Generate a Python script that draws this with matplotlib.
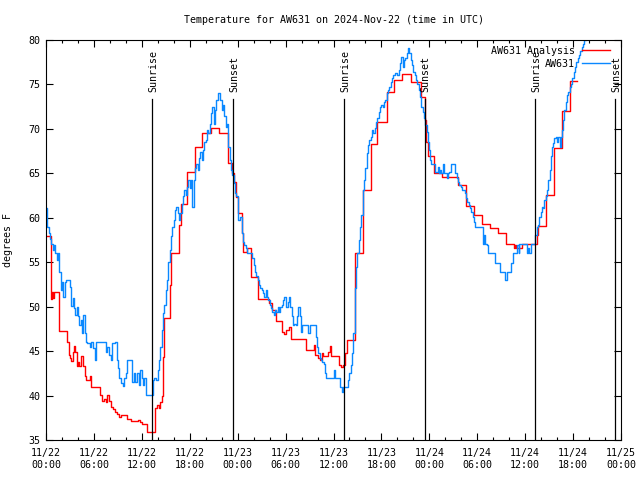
import matplotlib
matplotlib.use('Agg')
import matplotlib.pyplot as plt

# hours since 2024-11-22 00:00 UTC
analysis_hours = [0.0, 0.62, 0.75, 0.92, 1.0, 1.17, 1.66, 2.66, 2.83, 3.0, 3.17, 3.33, 3.5, 3.67,
                  3.83, 4.0, 4.17, 4.33, 4.67, 4.83, 5.0, 5.5, 5.67, 6.75, 7.0, 7.25, 7.5, 7.67,
                  7.92, 8.08, 8.33, 8.58, 8.83, 9.08, 9.33, 10.08, 10.67, 11.58, 11.83, 12.08,
                  12.67, 13.67, 13.92, 14.17, 14.33, 14.58, 14.7, 14.75, 15.5, 15.67, 16.7, 16.92,
                  17.67, 18.63, 19.58, 20.67, 21.67, 22.75, 23.25, 23.58, 23.83, 24.0, 24.5, 24.67,
                  25.17, 25.67, 26.58, 27.92, 28.25, 28.83, 29.58, 29.83, 30.0, 30.4, 30.67, 32.5,
                  32.58, 33.5, 33.67, 34.0, 34.25, 34.5, 34.67, 35.25, 35.5, 35.67, 36.67, 36.92,
                  37.17, 37.5, 37.67, 38.67, 39.67, 40.67, 41.5, 42.67, 43.58, 44.58, 45.67, 46.92,
                  47.42, 47.6, 47.8, 48.58, 49.58, 51.58, 52.58, 53.58, 54.58, 55.58, 56.58, 57.58,
                  58.58, 58.75, 58.9, 59.58, 61.42, 61.58, 62.58, 63.58, 64.67, 65.58, 66.5]
analysis_temps = [58.0, 50.9, 51.7, 51.0, 51.7, 51.7, 47.26, 46.06, 44.56, 44.2, 43.9, 44.94, 45.6, 44.94,
                  43.36, 43.8, 43.36, 44.5, 43.36, 42.2, 41.8, 42.2, 40.96, 40.1, 39.4, 39.6, 39.3, 40.1,
                  39.4, 38.68, 38.5, 38.2, 37.9, 37.55, 37.8, 37.4, 37.1, 37.2, 37.0, 36.8,
                  35.9, 38.56, 38.9, 38.6, 39.3, 39.95, 44.3, 48.7, 52.4, 56.0, 59.2, 61.6,
                  65.2, 68.0, 69.5, 70.06, 69.5, 66.2, 65.07, 64.0, 62.3, 60.5, 58.25, 56.2,
                  56.56, 53.3, 50.9, 50.4, 49.6, 48.4, 47.2, 46.9, 47.4, 47.75, 46.4, 45.9,
                  45.1, 45.7, 44.56, 44.2, 44.0, 44.75, 44.4, 44.9, 45.57, 44.4, 43.44, 43.2,
                  43.44, 44.75, 46.25, 56.07, 63.1, 68.3, 70.8, 74.2, 75.5, 76.2, 75.3, 73.6,
                  71.0, 68.5, 66.9, 65.07, 64.55, 63.7, 61.3, 60.3, 59.3, 58.8, 58.25, 57.05,
                  56.6, 56.9, 56.6, 57.05, 58.06, 59.07, 62.6, 67.8, 72.05, 75.4, 75.4]

station_hours = [0.0, 0.08, 0.17, 0.33, 0.5, 0.67, 0.83, 1.0, 1.17, 1.33, 1.5, 1.67, 1.83, 2.0,
                 2.17, 2.33, 2.5, 3.0, 3.08, 3.33, 3.5, 3.67, 3.83, 4.0, 4.17, 4.33, 4.5, 4.67,
                 4.83, 5.0, 5.17, 5.5, 5.67, 5.92, 6.08, 6.25, 7.5, 7.67, 7.92, 8.08, 8.25, 8.67,
                 8.83, 9.0, 9.17, 9.33, 9.58, 9.75, 10.0, 10.17, 10.75, 11.0, 11.17, 11.42, 11.67,
                 11.83, 12.0, 12.17, 12.33, 12.5, 13.42, 13.58, 13.83, 14.0, 14.17, 14.33, 14.5,
                 14.67, 14.83, 15.0, 15.17, 15.33, 15.5, 15.67, 15.83, 16.0, 16.17, 16.33, 16.5,
                 16.67, 16.83, 17.0, 17.17, 17.33, 17.5, 17.67, 17.83, 18.0, 18.17, 18.33, 18.5,
                 18.67, 18.83, 19.0, 19.17, 19.33, 19.5, 19.67, 19.83, 20.0, 20.17, 20.33, 20.5,
                 20.67, 20.83, 21.0, 21.17, 21.33, 21.5, 21.83, 22.0, 22.17, 22.33, 22.5, 22.67,
                 22.83, 23.0, 23.17, 23.33, 23.5, 23.67, 23.83, 24.0, 24.08, 24.33, 24.5, 24.67,
                 24.83, 25.0, 25.17, 25.83, 26.0, 26.17, 26.33, 26.5, 26.67, 26.83, 27.0, 27.17,
                 27.33, 27.5, 27.67, 27.83, 28.0, 28.17, 28.33, 28.5, 28.67, 28.83, 29.0, 29.17,
                 29.33, 29.5, 29.67, 29.83, 30.08, 30.25, 30.42, 30.58, 30.75, 30.92, 31.08, 31.25,
                 31.42, 31.58, 31.75, 31.92, 32.08, 32.83, 33.0, 33.75, 33.92, 34.08, 34.25, 34.42,
                 34.58, 34.75, 34.92, 35.08, 36.0, 36.17, 36.83, 37.08, 37.17, 37.83, 38.0, 38.17,
                 38.33, 38.5, 38.67, 38.83, 39.0, 39.17, 39.33, 39.5, 39.67, 39.83, 40.0, 40.17,
                 40.33, 40.5, 40.67, 40.83, 41.0, 41.17, 41.33, 41.5, 41.67, 41.83, 42.0, 42.17,
                 42.33, 42.5, 42.67, 42.83, 43.0, 43.17, 43.33, 43.5, 43.67, 44.0, 44.17, 44.33,
                 44.5, 44.67, 44.83, 45.0, 45.17, 45.33, 45.5, 45.67, 45.83, 46.0, 46.17, 46.33,
                 46.5, 46.67, 46.83, 47.0, 47.17, 47.33, 47.5, 47.67, 47.83, 47.92, 48.08, 48.25,
                 48.67, 49.08, 49.17, 49.33, 49.5, 49.75, 49.83, 50.25, 50.33, 50.5, 50.67, 51.25,
                 51.42, 51.58, 51.75, 51.92, 52.08, 52.42, 52.58, 52.75, 52.92, 53.08, 53.25, 53.42,
                 53.58, 53.75, 54.67, 54.75, 54.83, 54.92, 55.17, 55.33, 56.17, 56.83, 57.5, 57.67,
                 58.25, 58.42, 59.0, 59.17, 59.25, 60.17, 60.33, 60.5, 60.75, 61.25, 61.42, 61.58,
                 61.75, 61.92, 62.08, 62.25, 62.42, 62.58, 62.75, 62.92, 63.08, 63.25, 63.33, 63.5,
                 63.67, 63.83, 64.0, 64.17, 64.33, 64.5, 64.58, 64.75, 64.92, 65.08, 65.25, 65.42,
                 65.58, 65.75, 65.92, 66.08, 66.25, 66.42, 66.58, 66.75, 66.92, 67.08, 67.25, 67.42,
                 67.58, 67.75, 68.0]
station_temps = [61.06, 59.8, 59.0, 58.25, 57.6, 57.1, 56.4, 56.94, 56.0, 55.25, 56.0, 53.94, 51.9, 52.8,
                 51.1, 52.8, 53.0, 52.25, 50.07, 50.94, 49.8, 49.06, 50.0, 48.9, 47.94, 48.5, 47.0, 49.06,
                 47.0, 46.06, 45.9, 45.5, 46.06, 45.3, 44.0, 46.06, 44.94, 45.5, 44.56, 44.0, 45.9, 46.06,
                 44.0, 43.06, 41.94, 41.45, 41.08, 41.94, 42.5, 44.0, 41.56, 42.5, 41.56, 42.5, 41.19,
                 42.9, 41.94, 41.19, 42.0, 40.06, 41.75, 41.94, 41.75, 42.9, 44.0, 45.5, 47.4,
                 49.25, 50.2, 51.9, 53.0, 55.06, 56.4, 57.9, 59.0, 59.75, 60.9, 61.25, 60.5,
                 59.75, 60.5, 61.6, 62.4, 63.1, 62.56, 63.5, 64.25, 63.3, 64.25, 61.25, 64.25,
                 65.56, 66.1, 65.4, 66.7, 67.4, 66.5, 67.6, 68.56, 68.75, 69.9, 69.5, 70.6,
                 71.75, 72.5, 70.6, 72.1, 73.25, 74.07, 73.25, 72.1, 72.7, 71.4, 70.25, 70.6,
                 68.0, 66.5, 65.4, 64.8, 63.9, 62.75, 62.4, 61.25, 59.75, 60.1, 58.25, 57.3,
                 56.94, 56.56, 56.0, 55.44, 54.7, 53.94, 53.4, 53.0, 52.44, 52.06, 51.9, 51.5,
                 51.1, 51.9, 51.1, 50.75, 50.2, 49.8, 49.44, 49.06, 49.6, 49.44, 50.0, 49.44,
                 50.0, 50.2, 50.75, 51.05, 50.0, 50.56, 51.05, 50.0, 48.9, 47.94, 48.1, 47.94,
                 48.9, 50.0, 48.9, 47.2, 47.94, 47.0, 47.94, 46.6, 45.5, 44.75, 44.2, 44.0,
                 43.8, 43.6, 42.5, 41.94, 42.9, 41.94, 41.0, 40.4, 41.0, 41.75, 42.5, 43.44,
                 44.75, 47.0, 52.06, 54.5, 56.0, 57.5, 59.0, 60.3, 63.1, 64.25, 65.56, 67.25,
                 68.2, 68.75, 69.1, 69.9, 69.5, 70.06, 70.8, 71.2, 71.94, 72.5, 72.7, 72.5,
                 73.06, 73.25, 74.0, 74.4, 74.75, 75.3, 75.7, 76.06, 76.25, 76.06, 76.6, 77.4,
                 78.1, 77.0, 77.75, 77.94, 78.5, 79.06, 78.5, 77.75, 77.2, 76.4, 76.06, 75.5,
                 75.1, 74.4, 73.6, 72.5, 71.94, 71.2, 70.44, 69.7, 68.56, 67.6, 66.5, 66.05,
                 65.2, 65.75, 65.0, 65.4, 65.0, 66.05, 65.0, 64.44, 65.0, 65.2, 66.05, 65.0,
                 64.44, 64.06, 63.7, 63.5, 63.1, 62.75, 62.2, 61.8, 61.44, 61.06, 60.7, 60.1,
                 59.56, 59.0, 57.7, 57.1, 58.06, 57.1, 56.94, 56.0, 54.95, 53.94, 53.0, 53.94,
                 54.95, 56.0, 56.94, 56.0, 57.05, 56.0, 56.56, 56.0, 57.05, 58.06, 59.0, 59.2,
                 60.1, 60.7, 61.25, 61.06, 62.0, 62.4, 63.1, 64.25, 65.4, 66.9, 68.0, 68.4,
                 68.94, 69.05, 68.56, 69.05, 68.0, 69.1, 69.9, 71.0, 72.1, 73.06, 73.8, 74.2,
                 74.75, 75.1, 75.7, 76.4, 77.0, 77.56, 77.94, 78.3, 78.8, 79.2, 79.6, 80.0,
                 80.4, 80.75, 81.1]

sun_events = [13.29, 23.4, 37.29, 47.4, 61.2, 71.3]
sun_labels = ['Sunrise', 'Sunset', 'Sunrise', 'Sunset', 'Sunrise', 'Sunset']

tick_hours = list(range(0, 73, 6))
tick_labels = ['11/22\n00:00', '11/22\n06:00', '11/22\n12:00', '11/22\n18:00',
               '11/23\n00:00', '11/23\n06:00', '11/23\n12:00', '11/23\n18:00',
               '11/24\n00:00', '11/24\n06:00', '11/24\n12:00', '11/24\n18:00',
               '11/25\n00:00']

plt.rcParams['font.family'] = ['DejaVu Sans Mono']
plt.rcParams['font.size'] = 7.2

fig = plt.figure(figsize=(6.4, 4.8), dpi=100)
ax = fig.add_axes([46 / 640, 40 / 480, 575 / 640, 400 / 480])

ax.plot(analysis_hours, analysis_temps, drawstyle='steps-post', color='#ff0000', lw=1.0,
        label='AW631 Analysis')
ax.plot(station_hours, station_temps, drawstyle='steps-post', color='#0a88ff', lw=1.0,
        label='AW631')

# sunrise / sunset markers
for h, name in zip(sun_events, sun_labels):
    ax.plot([h, h], [35, 73.4], color='black', lw=0.9)
    ax.text(h + 0.15, 74.1, name, rotation=90, ha='center', va='bottom')

ax.set_xlim(0, 72)
ax.set_ylim(35, 80)
ax.set_xticks(tick_hours)
ax.set_xticklabels(tick_labels, linespacing=1.35)
ax.set_xticks(range(0, 73, 2), minor=True)
ax.set_yticks(range(35, 81, 5))
ax.tick_params(which='both', direction='in', top=True, right=True, width=0.8)
ax.tick_params(which='major', length=5)
ax.tick_params(which='minor', length=2.5)
ax.tick_params(axis='x', pad=5.5)
ax.tick_params(axis='y', pad=4)
for s in ax.spines.values():
    s.set_linewidth(0.8)

ax.set_title('Temperature for AW631 on 2024-Nov-22 (time in UTC)', fontsize=7.2, pad=12)
ax.set_ylabel('degrees F', fontsize=7.2)
ax.yaxis.set_label_coords(-0.058, 0.5)

ax.legend(loc='upper right', bbox_to_anchor=(0.981, 0.985), frameon=False, markerfirst=False,
          borderpad=0, borderaxespad=0, handlelength=2.8, handletextpad=0.7, labelspacing=0.3,
          fontsize=7.2)

fig.savefig('out.png', dpi=100)
